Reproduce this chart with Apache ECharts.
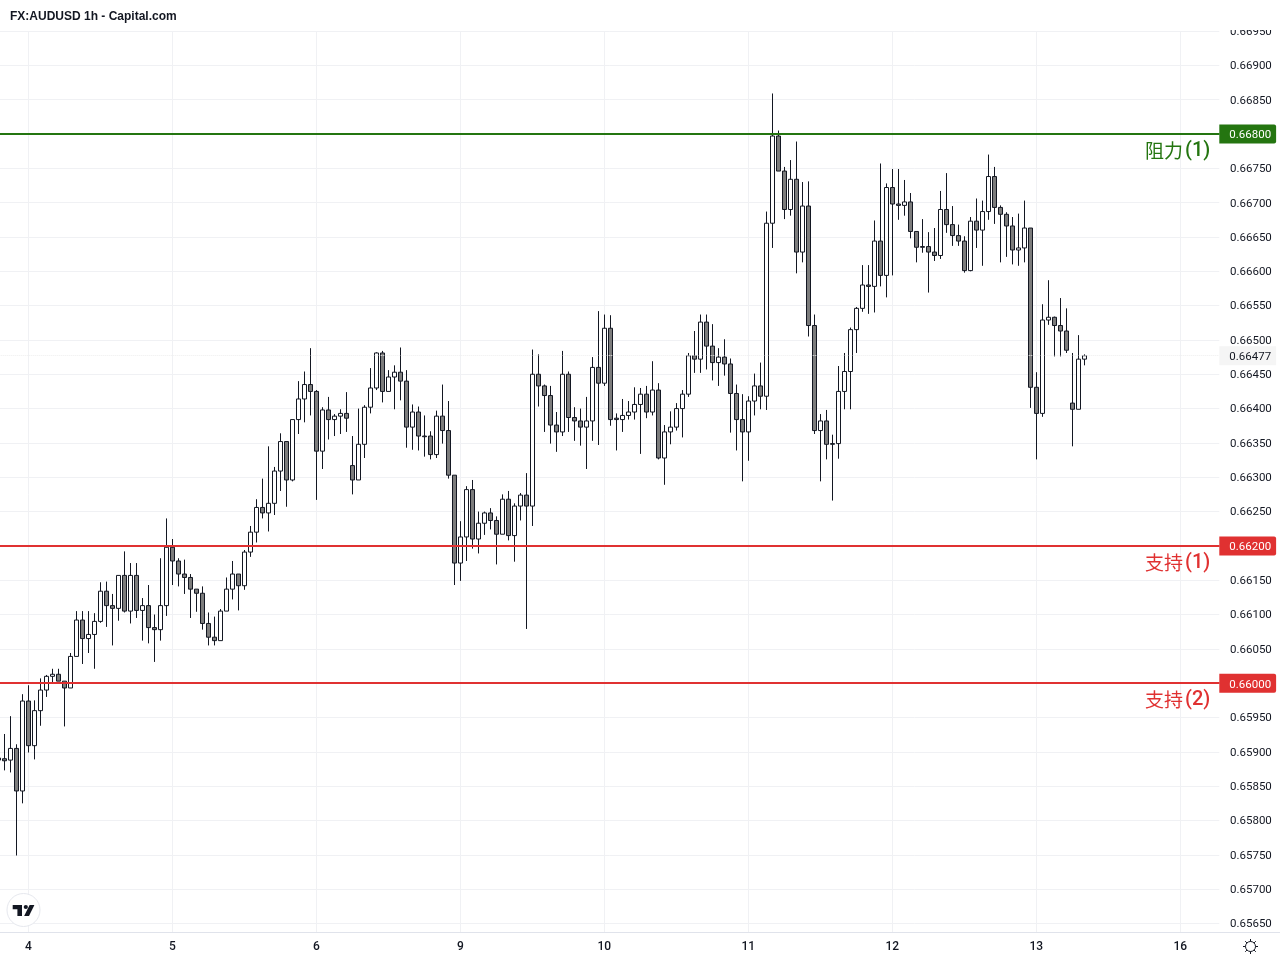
<!DOCTYPE html>
<html>
<head>
<meta charset="utf-8">
<style>html,body{margin:0;padding:0;background:#fff}#c{width:1280px;height:960px}</style>
<script src="https://cdn.jsdelivr.net/npm/echarts@6/dist/echarts.min.js"></script>
</head>
<body>
<div id="c"></div>
<script>
const title = 'FX:AUDUSD 1h - Capital.com';
const dayLabels = {5:'4',29:'5',53:'6',77:'9',101:'10',125:'11',149:'12',173:'13',197:'16'};
const opens = [
0.65891,0.65890,0.65888,0.65905,0.65843,0.65974,0.65909,0.65960,0.65990,0.66010,
0.66013,0.66003,0.65993,0.66039,0.66092,0.66065,0.66071,0.66090,0.66134,0.66113,
0.66109,0.66157,0.66105,0.66157,0.66106,0.66113,0.66081,0.66078,0.66113,0.66198,
0.66178,0.66159,0.66154,0.66137,0.66131,0.66087,0.66067,0.66062,0.66105,0.66137,
0.66159,0.66142,0.66191,0.66220,0.66256,0.66248,0.66262,0.66309,0.66352,0.66296,
0.66384,0.66414,0.66435,0.66425,0.66338,0.66398,0.66384,0.66389,0.66393,0.66317,
0.66296,0.66348,0.66402,0.66430,0.66481,0.66425,0.66446,0.66453,0.66440,0.66373,
0.66395,0.66360,0.66360,0.66333,0.66389,0.66368,0.66303,0.66175,0.66213,0.66282,
0.66210,0.66233,0.66248,0.66237,0.66217,0.66268,0.66215,0.66258,0.66274,0.66258,
0.66450,0.66433,0.66419,0.66376,0.66366,0.66450,0.66387,0.66382,0.66373,0.66382,
0.66460,0.66437,0.66517,0.66386,0.66384,0.66390,0.66395,0.66406,0.66421,0.66395,
0.66427,0.66328,0.66366,0.66373,0.66400,0.66421,0.66477,0.66472,0.66526,0.66491,
0.66467,0.66475,0.66465,0.66422,0.66384,0.66366,0.66411,0.66433,0.66418,0.66670,
0.66797,0.66746,0.66690,0.66734,0.66628,0.66695,0.66521,0.66368,0.66382,0.66349,
0.66349,0.66425,0.66454,0.66515,0.66546,0.66580,0.66578,0.66644,0.66594,0.66722,
0.66698,0.66696,0.66701,0.66658,0.66636,0.66636,0.66628,0.66623,0.66690,0.66668,
0.66652,0.66644,0.66601,0.66673,0.66660,0.66687,0.66738,0.66693,0.66683,0.66666,
0.66631,0.66634,0.66663,0.66431,0.66393,0.66529,0.66533,0.66521,0.66513,0.66408,
0.66399,0.66472];
const closes = [
0.65888,0.65887,0.65905,0.65843,0.65974,0.65909,0.65960,0.65990,0.66010,0.66013,
0.66003,0.65993,0.66039,0.66092,0.66065,0.66071,0.66090,0.66134,0.66113,0.66109,
0.66157,0.66105,0.66157,0.66106,0.66113,0.66081,0.66078,0.66113,0.66198,0.66178,
0.66159,0.66154,0.66137,0.66131,0.66087,0.66067,0.66062,0.66105,0.66137,0.66159,
0.66142,0.66191,0.66220,0.66256,0.66248,0.66262,0.66309,0.66352,0.66296,0.66384,
0.66414,0.66435,0.66425,0.66338,0.66398,0.66384,0.66389,0.66393,0.66386,0.66296,
0.66348,0.66402,0.66430,0.66481,0.66425,0.66446,0.66453,0.66440,0.66373,0.66395,
0.66360,0.66359,0.66333,0.66389,0.66368,0.66303,0.66175,0.66213,0.66282,0.66210,
0.66233,0.66248,0.66237,0.66217,0.66268,0.66215,0.66258,0.66274,0.66258,0.66450,
0.66433,0.66419,0.66376,0.66366,0.66450,0.66387,0.66382,0.66373,0.66382,0.66460,
0.66437,0.66517,0.66384,0.66384,0.66390,0.66395,0.66406,0.66421,0.66395,0.66427,
0.66328,0.66366,0.66373,0.66400,0.66421,0.66477,0.66472,0.66526,0.66491,0.66467,
0.66475,0.66465,0.66422,0.66384,0.66366,0.66411,0.66433,0.66418,0.66670,0.66797,
0.66746,0.66690,0.66734,0.66628,0.66695,0.66521,0.66368,0.66382,0.66348,0.66348,
0.66425,0.66454,0.66515,0.66546,0.66580,0.66578,0.66644,0.66594,0.66722,0.66698,
0.66696,0.66701,0.66658,0.66635,0.66635,0.66628,0.66623,0.66690,0.66668,0.66652,
0.66644,0.66601,0.66673,0.66660,0.66687,0.66738,0.66693,0.66683,0.66666,0.66631,
0.66634,0.66663,0.66431,0.66393,0.66529,0.66533,0.66521,0.66513,0.66485,0.66399,
0.66472,0.66477];
const lows = [
0.65881,0.65873,0.65870,0.65749,0.65825,0.65899,0.65889,0.65938,0.65980,0.66000,
0.66003,0.65937,0.65993,0.66039,0.66028,0.66044,0.66021,0.66088,0.66082,0.66055,
0.66091,0.66103,0.66087,0.66095,0.66062,0.66058,0.66031,0.66062,0.66098,0.66143,
0.66141,0.66130,0.66095,0.66104,0.66078,0.66055,0.66055,0.66062,0.66105,0.66122,
0.66106,0.66136,0.66184,0.66205,0.66240,0.66221,0.66245,0.66280,0.66257,0.66294,
0.66363,0.66380,0.66390,0.66267,0.66312,0.66355,0.66360,0.66363,0.66366,0.66275,
0.66296,0.66328,0.66393,0.66427,0.66409,0.66425,0.66399,0.66412,0.66343,0.66340,
0.66339,0.66330,0.66326,0.66328,0.66349,0.66298,0.66143,0.66149,0.66178,0.66196,
0.66189,0.66216,0.66224,0.66173,0.66217,0.66208,0.66177,0.66237,0.66079,0.66229,
0.66403,0.66366,0.66349,0.66337,0.66360,0.66366,0.66353,0.66346,0.66312,0.66353,
0.66347,0.66433,0.66375,0.66339,0.66366,0.66384,0.66384,0.66334,0.66386,0.66390,
0.66326,0.66289,0.66348,0.66368,0.66358,0.66417,0.66452,0.66452,0.66457,0.66441,
0.66433,0.66448,0.66365,0.66339,0.66294,0.66324,0.66390,0.66399,0.66398,0.66634,
0.66746,0.66676,0.66681,0.66597,0.66613,0.66505,0.66363,0.66294,0.66326,0.66266,
0.66327,0.66399,0.66399,0.66481,0.66541,0.66538,0.66540,0.66578,0.66562,0.66594,
0.66675,0.66681,0.66648,0.66613,0.66627,0.66569,0.66615,0.66618,0.66656,0.66637,
0.66637,0.66598,0.66600,0.66634,0.66608,0.66675,0.66669,0.66613,0.66621,0.66610,
0.66608,0.66613,0.66401,0.66326,0.66388,0.66522,0.66476,0.66476,0.66481,0.66345,
0.66399,0.66463];
const highs = [
0.65900,0.65926,0.65952,0.65911,0.65984,0.65997,0.65975,0.66007,0.66012,0.66021,
0.66021,0.66003,0.66044,0.66105,0.66105,0.66105,0.66102,0.66147,0.66148,0.66130,
0.66157,0.66192,0.66175,0.66175,0.66124,0.66143,0.66100,0.66182,0.66240,0.66210,
0.66182,0.66180,0.66159,0.66137,0.66141,0.66103,0.66097,0.66108,0.66154,0.66178,
0.66159,0.66194,0.66229,0.66268,0.66298,0.66345,0.66315,0.66364,0.66352,0.66384,
0.66440,0.66454,0.66488,0.66427,0.66402,0.66417,0.66392,0.66399,0.66424,0.66360,
0.66400,0.66405,0.66459,0.66482,0.66484,0.66456,0.66463,0.66489,0.66456,0.66406,
0.66403,0.66390,0.66367,0.66397,0.66435,0.66411,0.66303,0.66236,0.66287,0.66296,
0.66250,0.66250,0.66255,0.66243,0.66275,0.66280,0.66262,0.66277,0.66306,0.66486,
0.66479,0.66435,0.66433,0.66395,0.66484,0.66454,0.66402,0.66400,0.66417,0.66475,
0.66542,0.66537,0.66536,0.66393,0.66414,0.66411,0.66431,0.66430,0.66433,0.66469,
0.66437,0.66376,0.66396,0.66408,0.66427,0.66481,0.66513,0.66537,0.66537,0.66523,
0.66488,0.66501,0.66473,0.66435,0.66421,0.66418,0.66451,0.66467,0.66687,0.66859,
0.66805,0.66752,0.66762,0.66789,0.66730,0.66731,0.66537,0.66392,0.66398,0.66362,
0.66462,0.66481,0.66518,0.66548,0.66609,0.66609,0.66674,0.66757,0.66728,0.66749,
0.66749,0.66733,0.66714,0.66658,0.66676,0.66657,0.66663,0.66717,0.66743,0.66695,
0.66668,0.66651,0.66679,0.66706,0.66703,0.66770,0.66752,0.66696,0.66686,0.66679,
0.66684,0.66703,0.66663,0.66453,0.66552,0.66587,0.66534,0.66561,0.66546,0.66481,
0.66507,0.66479];
const resistanceLevel = 0.668, supportLevel1 = 0.662, supportLevel2 = 0.660, lastPrice = 0.66477;
const yMin = 0.656, yMax = 0.6695, yStep = 0.0005;

const slotCount = 204;
const categories = Array.from({length: slotCount}, (_, i) => dayLabels[i] || '');
const candles = opens.map((o, i) => [o, closes[i], lows[i], highs[i]]);
const isDay = i => dayLabels[i] !== undefined;
const GREEN = '#247510', RED = '#e03131', FONT = 'Roboto, "Liberation Sans", sans-serif', INK = '#131722';

function priceRich(color) {
  return {p: {color: color, fontFamily: FONT, fontSize: 11.5, padding: [2, 0, 0, 0]}};
}
function tag(level, color, textColor) {
  return {
    yAxis: level,
    lineStyle: {color: color, width: 2, type: 'solid'},
    label: {show: true, position: 'end', distance: 0, formatter: '{p|' + level.toFixed(5) + '}',
      backgroundColor: color, padding: [3, 5, 2, 10], borderRadius: [0, 2, 2, 0], rich: priceRich(textColor)}
  };
}
function note(level, color, name, num) {
  return {
    yAxis: level,
    lineStyle: {color: color, width: 2, type: 'solid'},
    label: {show: true, position: 'insideEndBottom', distance: 7, formatter: '{a|' + name + '}{b|' + num + '}', padding: [0, 2, 0, 0],
      rich: {
        a: {color: color, fontFamily: '"Noto Sans CJK SC", sans-serif', fontSize: 19},
        b: {color: color, fontFamily: 'Roboto, sans-serif', fontSize: 20, fontWeight: 500, padding: [0, 0, 0, 2]}
      }}
  };
}
const rays = [];
for (let a = 0; a < 8; a++) {
  const t = a * Math.PI / 4;
  rays.push({type: 'line', z: 30, silent: true,
    shape: {x1: 1250.5 + 5 * Math.cos(t), y1: 946.5 + 5 * Math.sin(t), x2: 1250.5 + 7.5 * Math.cos(t), y2: 946.5 + 7.5 * Math.sin(t)},
    style: {stroke: INK, lineWidth: 1}});
}

const chart = echarts.init(document.getElementById('c'), null, {renderer: 'canvas'});
chart.setOption({
  animation: false,
  backgroundColor: '#ffffff',
  grid: {left: -4.7, top: 31, width: 1224, height: 926.8, containLabel: false, outerBoundsMode: 'none'},
  xAxis: [
    {type: 'category', data: categories, position: 'bottom', z: 0,
     axisLine: {show: false}, axisTick: {show: false}, axisLabel: {show: false},
     splitLine: {show: true, alignWithLabel: true, interval: i => isDay(i), lineStyle: {color: '#f0f1f4', width: 1}}},
    {type: 'category', data: categories, position: 'bottom', offset: -25.8, z: 40,
     axisLine: {show: false}, axisTick: {show: false}, splitLine: {show: false},
     axisLabel: {show: true, interval: i => isDay(i), color: INK, fontFamily: FONT, fontSize: 12, fontWeight: 500, margin: 9}}
  ],
  yAxis: {
    type: 'value', position: 'right', min: yMin, max: yMax, interval: yStep, scale: true,
    axisLine: {show: false}, axisTick: {show: false},
    axisLabel: {margin: 10.7, align: 'left', rich: priceRich(INK),
      formatter: v => v < 0.6562 ? '' : '{p|' + v.toFixed(5) + '}'},
    splitLine: {show: true, lineStyle: {color: '#f0f1f4', width: 1}}
  },
  series: [{
    type: 'candlestick', xAxisIndex: 0, yAxisIndex: 0, data: candles, barWidth: 4, silent: true,
    itemStyle: {color: '#ffffff', color0: '#7c7c7c', borderColor: INK, borderColor0: INK, borderWidth: 1},
    markLine: {
      silent: true, symbol: 'none', animation: false, precision: 5,
      data: [
        {yAxis: lastPrice, lineStyle: {color: '#eeeeee', width: 1, type: 'dotted'},
         label: {show: true, position: 'end', distance: 0, formatter: '{p|' + lastPrice.toFixed(5) + '}',
           backgroundColor: '#f5f5f5', padding: [3, 5, 2, 10], rich: priceRich(INK)}},
        note(resistanceLevel, GREEN, '阻力', '(1)'),
        tag(resistanceLevel, GREEN, '#ffffff'),
        note(supportLevel1, RED, '支持', '(1)'),
        tag(supportLevel1, RED, '#ffffff'),
        note(supportLevel2, RED, '支持', '(2)'),
        tag(supportLevel2, RED, '#ffffff')
      ]
    }
  }],
  graphic: [
    {type: 'rect', z: 10, silent: true, shape: {x: 0, y: 0, width: 1280, height: 30}, style: {fill: '#ffffff'}},
    {type: 'rect', z: 10, silent: true, shape: {x: 0, y: 932, width: 1280, height: 28}, style: {fill: '#ffffff'}},
    {type: 'rect', z: 11, silent: true, shape: {x: 0, y: 932, width: 1280, height: 1}, style: {fill: '#e0e3eb'}},
    {type: 'text', z: 30, silent: true, x: 10, y: 11,
     style: {text: title, fill: INK, font: 'bold 12px "Liberation Sans", Arial, sans-serif'}},
    {type: 'circle', z: 30, silent: true, shape: {cx: 23.5, cy: 910, r: 16.5}, style: {fill: '#ffffff', stroke: '#e6e8ee', lineWidth: 1}},
    {type: 'polygon', z: 31, silent: true, shape: {points: [[12.7,905],[22,905],[22,916],[17.4,916],[17.4,909.3],[12.7,909.3]]}, style: {fill: INK}},
    {type: 'circle', z: 31, silent: true, shape: {cx: 25.8, cy: 907, r: 2.1}, style: {fill: INK}},
    {type: 'polygon', z: 31, silent: true, shape: {points: [[29.6,905],[34.4,905],[29,916],[24.1,916]]}, style: {fill: INK}},
    {type: 'circle', z: 30, silent: true, shape: {cx: 1250.5, cy: 946.5, r: 5}, style: {fill: 'none', stroke: INK, lineWidth: 1}}
  ].concat(rays)
});
</script>
</body>
</html>
